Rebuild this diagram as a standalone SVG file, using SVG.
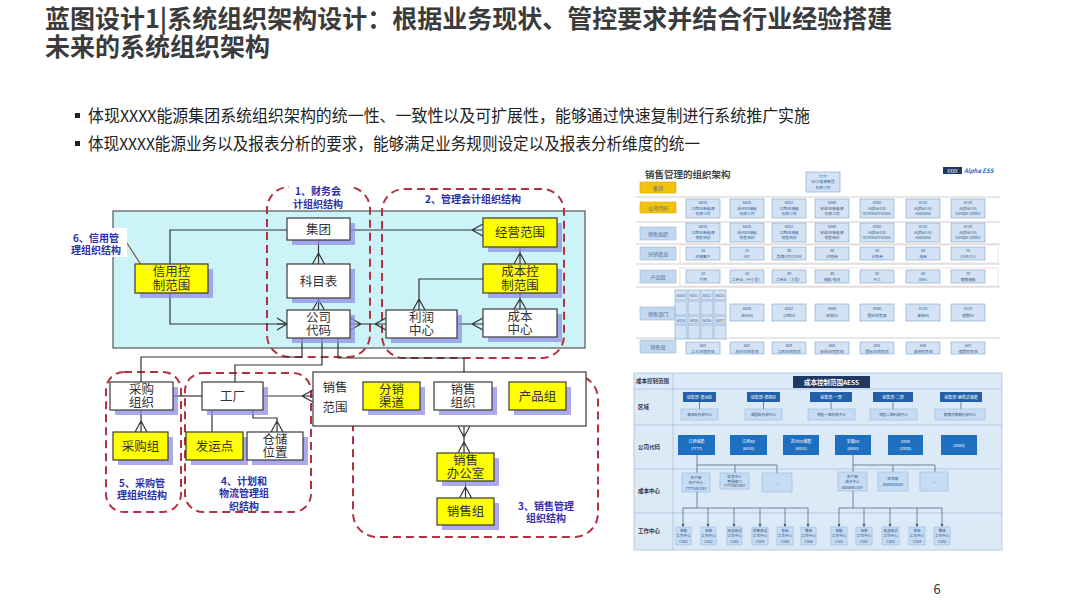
<svg xmlns="http://www.w3.org/2000/svg" width="1080" height="607" viewBox="0 0 1080 607">
<style>
text{font-family:"Noto Sans CJK SC","Noto Sans",sans-serif}
.title{font-size:25px;font-weight:bold;fill:#3b3b3b}
.bul{font-size:16.5px;fill:#222}
.n{fill:#fff;stroke:#3a3a3a;stroke-width:1.2}
.y{fill:#ffff00;stroke:#3a3a3a;stroke-width:1.2}
.sh{fill:#8f8fe6;opacity:.75}
.nt{font-size:12.5px;fill:#333;text-anchor:middle}
.rg{fill:none;stroke:#b2323f;stroke-width:2;stroke-dasharray:8 5}
.rl{font-size:10px;font-weight:bold;fill:#2e2ea8;text-anchor:middle}
.c{fill:none;stroke:#333;stroke-width:1.2}
.lb{fill:#c3d8ee;stroke:#9ab6d8;stroke-width:.6}
.lby{fill:#f3c20c;stroke:#d9a800;stroke-width:.6}
.lt{font-size:5px;fill:#4a6a9a;text-anchor:middle}
.db{fill:#d3e3f4;stroke:#7fa2cc;stroke-width:.6}
.dt{font-size:3.8px;fill:#3a5a8a;text-anchor:middle}
.sep{stroke:#c4c4c4;stroke-width:.8}
.dk{fill:#2360a8}
.cb{fill:#1f6fc0}
.wt{font-size:4px;fill:#fff;text-anchor:middle}
.lc{fill:#c6dcf2;stroke:#9bb9da;stroke-width:.6}
.ct{font-size:3.6px;fill:#2a4d80;text-anchor:middle}
.bl{stroke:#3a5a7a;stroke-width:.7;fill:none}
.rowl{font-size:5.5px;font-weight:bold;fill:#334}
</style>

<!-- Title & bullets -->
<text class="title" x="45" y="28">蓝图设计1|系统组织架构设计：根据业务现状、管控要求并结合行业经验搭建</text>
<text class="title" x="45" y="56">未来的系统组织架构</text>
<rect x="75" y="113" width="5" height="5" fill="#222"/>
<text class="bul" x="88" y="122" textLength="722" lengthAdjust="spacingAndGlyphs">体现XXXX能源集团系统组织架构的统一性、一致性以及可扩展性，能够通过快速复制进行系统推广实施</text>
<rect x="75" y="141" width="5" height="5" fill="#222"/>
<text class="bul" x="88" y="150" textLength="612" lengthAdjust="spacingAndGlyphs">体现XXXX能源业务以及报表分析的要求，能够满足业务规则设定以及报表分析维度的统一</text>

<!-- Left diagram background -->
<rect x="113" y="211" width="472" height="137" fill="#ccf4f8" stroke="#555" stroke-width="1.2"/>

<!-- Regions -->
<g id="regions">
<rect class="rg" x="267" y="187" width="103" height="170" rx="22"/>
<rect x="289" y="183" width="60" height="26" fill="#fff"/>
<rect class="rg" x="382" y="189" width="182" height="169" rx="22"/>
<rect class="rg" x="106" y="372" width="75" height="140" rx="18"/>
<rect class="rg" x="185" y="373" width="126" height="139" rx="18"/>
<rect class="rg" x="353" y="375" width="245" height="162" rx="24"/>
</g>

<!-- Connectors -->
<g id="connectors" class="c">
<path d="M287 230 H170 V264 M170 293 V324 H287"/>
<path d="M277 318 L287 324 L277 330 M287 324 H277"/>
<path d="M318.5 240 V264 M312.5 264 L318.5 253 L324.5 264"/>
<path d="M318.5 298 V310 M312.5 310 L318.5 300 L324.5 310"/>
<path d="M350 230 H483 M483 224 L472 230 L483 236"/>
<path d="M520 247 V264 M514 264 L520 253 L526 264"/>
<path d="M483 279 H419 V310 M413 310 L419 299 L425 310"/>
<path d="M520 293 V309 M514 309 L520 299 L526 309"/>
<path d="M457 324 H483 M483 318 L472 324 L483 330"/>
<path d="M350 324 H386 M350 318 L361 324 L350 330 M386 318 L375 324 L386 330"/>
<path d="M302 338 V357 H141 V382"/>
<path d="M322 338 V365 H235 V382"/>
<path d="M338 338 V358 H464 V382 M458 382 L464 371 L470 382"/>
<path d="M173 396 H202"/>
<path d="M263 396 H313 M313 390 L302 396 L313 402"/>
<path d="M141 410 V432 M135 432 L141 421 L147 432"/>
<path d="M212 410 V432"/>
<path d="M253 410 V418 H277 V432 M271 432 L277 421 L283 432"/>
<path d="M464 426 V453 M458 426 L464 437 L470 426 M458 453 L464 442 L470 453"/>
<path d="M465.5 481 V498 M459.5 498 L465.5 487 L471.5 498"/>
<path d="M127 243 L143 268" stroke="#7a5a40"/>
</g>
<circle cx="143" cy="268" r="2" fill="#c03030"/>

<!-- Nodes -->
<g id="n-jituan"><rect class="sh" x="292" y="223" width="63" height="22"/><rect class="n" x="287" y="218" width="63" height="22"/><text class="nt" x="318.5" y="233.5">集团</text></g>
<g id="n-kemubiao"><rect class="sh" x="292" y="269" width="63" height="34"/><rect class="n" x="287" y="264" width="63" height="34"/><text class="nt" x="318.5" y="285.5">科目表</text></g>
<g id="n-gongsidaima"><rect class="sh" x="292" y="315" width="63" height="28"/><rect class="n" x="287" y="310" width="63" height="28"/><text class="nt" x="318.5" y="321.5">公司<tspan x="318.5" dy="13.5">代码</tspan></text></g>
<g id="n-xinyong"><rect class="sh" x="140" y="269" width="73" height="29"/><rect class="y" x="135" y="264" width="73" height="29"/><text class="nt" x="171.5" y="276">信用控<tspan x="171.5" dy="13.5">制范围</tspan></text></g>
<g id="n-jingying"><rect class="sh" x="488" y="223" width="74" height="29"/><rect class="y" x="483" y="218" width="74" height="29"/><text class="nt" x="520" y="237">经营范围</text></g>
<g id="n-chengbenkongzhi"><rect class="sh" x="488" y="269" width="74" height="29"/><rect class="y" x="483" y="264" width="74" height="29"/><text class="nt" x="520" y="276">成本控<tspan x="520" dy="13.5">制范围</tspan></text></g>
<g id="n-lirun"><rect class="sh" x="391" y="315" width="71" height="28"/><rect class="n" x="386" y="310" width="71" height="28"/><text class="nt" x="421.5" y="321.5">利润<tspan x="421.5" dy="13.5">中心</tspan></text></g>
<g id="n-chengbenzhongxin"><rect class="sh" x="488" y="314" width="74" height="28"/><rect class="n" x="483" y="309" width="74" height="28"/><text class="nt" x="520" y="320.5">成本<tspan x="520" dy="13.5">中心</tspan></text></g>
<g id="n-caigouzuzhi"><rect class="sh" x="115" y="387" width="63" height="28"/><rect class="n" x="110" y="382" width="63" height="28"/><text class="nt" x="141.5" y="393.5">采购<tspan x="141.5" dy="13.5">组织</tspan></text></g>
<g id="n-gongchang"><rect class="sh" x="207" y="387" width="61" height="28"/><rect class="n" x="202" y="382" width="61" height="28"/><text class="nt" x="232.5" y="400.5">工厂</text></g>
<g id="n-caigouzu"><rect class="sh" x="118" y="437" width="55" height="28"/><rect class="y" x="113" y="432" width="55" height="28"/><text class="nt" x="140.5" y="450.5">采购组</text></g>
<g id="n-fayundian"><rect class="sh" x="191" y="437" width="57" height="28"/><rect class="y" x="186" y="432" width="57" height="28"/><text class="nt" x="214.5" y="450.5">发运点</text></g>
<g id="n-cangchu"><rect class="sh" x="252" y="437" width="56" height="28"/><rect class="n" x="247" y="432" width="56" height="28"/><text class="nt" x="275" y="443.5">仓储<tspan x="275" dy="13.5">位置</tspan></text></g>
<g id="n-xiaoshoufanwei"><rect class="n" x="313" y="372" width="273" height="54"/><text class="nt" x="335" y="391.5">销售<tspan x="335" dy="20.5">范围</tspan></text></g>
<g id="n-fenxiao"><rect class="sh" x="368" y="387" width="57" height="28"/><rect class="y" x="363" y="382" width="57" height="28"/><text class="nt" x="391.5" y="393.5">分销<tspan x="391.5" dy="13.5">渠道</tspan></text></g>
<g id="n-xiaoshouzuzhi"><rect class="sh" x="439" y="387" width="58" height="28"/><rect class="n" x="434" y="382" width="58" height="28"/><text class="nt" x="463" y="393.5">销售<tspan x="463" dy="13.5">组织</tspan></text></g>
<g id="n-chanpinzu"><rect class="sh" x="514" y="387" width="57" height="28"/><rect class="y" x="509" y="382" width="57" height="28"/><text class="nt" x="537.5" y="400.5">产品组</text></g>
<g id="n-bangongshi"><rect class="sh" x="442" y="458" width="57" height="28"/><rect class="y" x="437" y="453" width="57" height="28"/><text class="nt" x="465.5" y="464.5">销售<tspan x="465.5" dy="13.5">办公室</tspan></text></g>
<g id="n-xiaoshouzu"><rect class="sh" x="442" y="503" width="57" height="27"/><rect class="y" x="437" y="498" width="57" height="27"/><text class="nt" x="465.5" y="516">销售组</text></g>

<!-- Region labels -->
<g id="region-labels">
<text class="rl" x="318" y="195">1、财务会<tspan x="318" dy="12.5">计组织结构</tspan></text>
<text class="rl" x="473" y="203">2、管理会计组织结构</text>
<rect x="66" y="228" width="61" height="29" fill="#fff"/>
<text class="rl" x="96" y="241.5">6、信用管<tspan x="96" dy="12.5">理组织结构</tspan></text>
<text class="rl" x="142" y="486.5">5、采购管<tspan x="142" dy="12.5">理组织结构</tspan></text>
<text class="rl" x="244" y="484.5">4、计划和<tspan x="244" dy="12.5">物流管理组</tspan><tspan x="244" dy="12.5">织结构</tspan></text>
<text class="rl" x="546" y="509.5">3、销售管理<tspan x="546" dy="12.5">组织结构</tspan></text>
</g>

<!-- Right top screenshot: 销售管理的组织架构 -->
<g id="sales-org">
<text x="645" y="178" style="font-size:9.5px;font-weight:bold;fill:#444">销售管理的组织架构</text>
<rect x="943" y="167" width="19" height="7" fill="#1f3864"/>
<text x="952.5" y="172.5" style="font-size:4.5px;fill:#fff;text-anchor:middle">XXXX</text>
<text x="964" y="173" style="font-size:6px;font-style:italic;font-weight:bold;fill:#2b6cc4">Alpha ESS</text>
<line class="sep" x1="636" y1="197" x2="1000" y2="197"/>
<line class="sep" x1="636" y1="222" x2="1000" y2="222"/>
<line class="sep" x1="636" y1="244" x2="1000" y2="244"/>
<line class="sep" x1="636" y1="264" x2="1000" y2="264"/>
<line class="sep" x1="636" y1="287" x2="1000" y2="287"/>
<line class="sep" x1="636" y1="338" x2="1000" y2="338"/>
<rect x="680" y="245" width="318" height="18" fill="none" stroke="#e8c8c8" stroke-width=".6"/>
<rect x="680" y="268" width="318" height="18" fill="none" stroke="#e8c8c8" stroke-width=".6"/>
<rect class="lby" x="640" y="182" width="36" height="11"/><text class="lt" x="658" y="189.5">集团</text>
<rect class="lby" x="640" y="202" width="36" height="11"/><text class="lt" x="658" y="209.5">公司代码</text>
<rect class="lb" x="640" y="227" width="36" height="13"/><text class="lt" x="658" y="235.5">销售组织</text>
<rect class="lb" x="640" y="247" width="36" height="13"/><text class="lt" x="658" y="255.5">分销渠道</text>
<rect class="lb" x="640" y="270" width="36" height="13"/><text class="lt" x="658" y="278.5">产品组</text>
<rect class="lb" x="640" y="307" width="36" height="13"/><text class="lt" x="658" y="315.5">销售部门</text>
<rect class="lb" x="640" y="340" width="36" height="13"/><text class="lt" x="658" y="348.5">销售组</text>
<rect class="db" x="806" y="172" width="34" height="20"/><text class="dt" x="823" y="177.5">7777<tspan x="823" dy="5.8">XX大能源集团</tspan><tspan x="823" dy="5.8">有限公司</tspan></text>
<!-- row 公司代码 -->
<rect class="db" x="686" y="199" width="34" height="19"/><text class="dt" x="703" y="204">6010<tspan x="703" dy="5.7">江西XX新能源</tspan><tspan x="703" dy="5.7">有限公司</tspan></text>
<rect class="db" x="730" y="199" width="34" height="19"/><text class="dt" x="747" y="204">6020<tspan x="747" dy="5.7">苏州XX储能</tspan><tspan x="747" dy="5.7">有限公司</tspan></text>
<rect class="db" x="772" y="199" width="34" height="19"/><text class="dt" x="789" y="204">6022<tspan x="789" dy="5.7">江西XX储能</tspan><tspan x="789" dy="5.7">有限公司</tspan></text>
<rect class="db" x="815" y="199" width="34" height="19"/><text class="dt" x="832" y="204">6040<tspan x="832" dy="5.7">安徽XX新能源</tspan><tspan x="832" dy="5.7">有限公司</tspan></text>
<rect class="db" x="860" y="199" width="34" height="19"/><text class="dt" x="877" y="204">8000<tspan x="877" dy="5.7">Alpha ESS</tspan><tspan x="877" dy="5.7">INTERNATIONAL</tspan></text>
<rect class="db" x="906" y="199" width="34" height="19"/><text class="dt" x="923" y="204">8110<tspan x="923" dy="5.7">Alpha ESS</tspan><tspan x="923" dy="5.7">Australia</tspan></text>
<rect class="db" x="951" y="199" width="34" height="19"/><text class="dt" x="968" y="204">8210<tspan x="968" dy="5.7">Alpha ESS</tspan><tspan x="968" dy="5.7">Europe GmbH</tspan></text>
<!-- row 销售组织 -->
<rect class="db" x="686" y="223" width="34" height="19"/><text class="dt" x="703" y="228">6010<tspan x="703" dy="5.7">江西XX新能源</tspan><tspan x="703" dy="5.7">销售组织</tspan></text>
<rect class="db" x="730" y="223" width="34" height="19"/><text class="dt" x="747" y="228">6020<tspan x="747" dy="5.7">苏州XX储能</tspan><tspan x="747" dy="5.7">销售组织</tspan></text>
<rect class="db" x="772" y="223" width="34" height="19"/><text class="dt" x="789" y="228">6022<tspan x="789" dy="5.7">江西XX储能</tspan><tspan x="789" dy="5.7">销售组织</tspan></text>
<rect class="db" x="815" y="223" width="34" height="19"/><text class="dt" x="832" y="228">6040<tspan x="832" dy="5.7">安徽XX新能源</tspan><tspan x="832" dy="5.7">销售组织</tspan></text>
<rect class="db" x="860" y="223" width="34" height="19"/><text class="dt" x="877" y="228">8000<tspan x="877" dy="5.7">Alpha ESS</tspan><tspan x="877" dy="5.7">INTERNATIONAL</tspan></text>
<rect class="db" x="906" y="223" width="34" height="19"/><text class="dt" x="923" y="228">8110<tspan x="923" dy="5.7">Alpha ESS</tspan><tspan x="923" dy="5.7">Australia</tspan></text>
<rect class="db" x="951" y="223" width="34" height="19"/><text class="dt" x="968" y="228">8210<tspan x="968" dy="5.7">Alpha ESS</tspan><tspan x="968" dy="5.7">Europe GmbH</tspan></text>
<!-- row 分销渠道 -->
<rect class="db" x="686" y="247" width="34" height="13"/><text class="dt" x="703" y="252">10<tspan x="703" dy="6">终端客户</tspan></text>
<rect class="db" x="730" y="247" width="34" height="13"/><text class="dt" x="747" y="252">20<tspan x="747" dy="6">EPC</tspan></text>
<rect class="db" x="772" y="247" width="34" height="13"/><text class="dt" x="789" y="252">30<tspan x="789" dy="6">品牌合作/OEM</tspan></text>
<rect class="db" x="815" y="247" width="34" height="13"/><text class="dt" x="832" y="252">40<tspan x="832" dy="6">经销商</tspan></text>
<rect class="db" x="860" y="247" width="34" height="13"/><text class="dt" x="877" y="252">50<tspan x="877" dy="6">分销商</tspan></text>
<rect class="db" x="906" y="247" width="34" height="13"/><text class="dt" x="923" y="252">60<tspan x="923" dy="6">电商</tspan></text>
<rect class="db" x="951" y="247" width="34" height="13"/><text class="dt" x="968" y="252">70<tspan x="968" dy="6">CEM/YL1</tspan></text>
<!-- row 产品组 -->
<rect class="db" x="686" y="270" width="34" height="13"/><text class="dt" x="703" y="275">10<tspan x="703" dy="6">户用</tspan></text>
<rect class="db" x="730" y="270" width="34" height="13"/><text class="dt" x="747" y="275">20<tspan x="747" dy="6">工商业（中小型）</tspan></text>
<rect class="db" x="772" y="270" width="34" height="13"/><text class="dt" x="789" y="275">30<tspan x="789" dy="6">工商业（大型）</tspan></text>
<rect class="db" x="815" y="270" width="34" height="13"/><text class="dt" x="832" y="275">40<tspan x="832" dy="6">储能/电池</tspan></text>
<rect class="db" x="860" y="270" width="34" height="13"/><text class="dt" x="877" y="275">50<tspan x="877" dy="6">PCS</tspan></text>
<rect class="db" x="906" y="270" width="34" height="13"/><text class="dt" x="923" y="275">60<tspan x="923" dy="6">BMS</tspan></text>
<rect class="db" x="951" y="270" width="34" height="13"/><text class="dt" x="968" y="275">70<tspan x="968" dy="6">便携储能</tspan></text>
<!-- row 销售部门 -->
<rect class="db" x="675" y="290" width="12" height="10"/><rect class="db" x="688" y="290" width="12" height="10"/><rect class="db" x="701" y="290" width="12" height="10"/><rect class="db" x="714" y="290" width="12" height="10"/>
<rect class="db" x="675" y="301" width="12" height="14"/><rect class="db" x="688" y="301" width="12" height="14"/><rect class="db" x="701" y="301" width="12" height="14"/><rect class="db" x="714" y="301" width="12" height="14"/>
<rect class="db" x="675" y="316" width="12" height="8"/><rect class="db" x="688" y="316" width="12" height="8"/><rect class="db" x="701" y="316" width="12" height="8"/><rect class="db" x="714" y="316" width="12" height="8"/>
<rect class="db" x="675" y="325" width="12" height="14"/><rect class="db" x="688" y="325" width="12" height="14"/><rect class="db" x="701" y="325" width="12" height="14"/><rect class="db" x="714" y="325" width="12" height="14"/>
<text class="dt" x="681" y="296.5">6010</text><text class="dt" x="694" y="296.5">6011</text><text class="dt" x="707" y="296.5">6012</text><text class="dt" x="720" y="296.5">6013</text>
<text class="dt" x="681" y="321.5">6014</text><text class="dt" x="694" y="321.5">6015</text><text class="dt" x="707" y="321.5">6016</text><text class="dt" x="720" y="321.5">6017</text>
<rect class="db" x="730" y="304" width="34" height="17"/><text class="dt" x="747" y="310">6020<tspan x="747" dy="7">苏州XX</tspan></text>
<rect class="db" x="772" y="304" width="34" height="17"/><text class="dt" x="789" y="310">6022<tspan x="789" dy="7">江西XX</tspan></text>
<rect class="db" x="815" y="304" width="34" height="17"/><text class="dt" x="832" y="310">6040<tspan x="832" dy="7">安徽XX</tspan></text>
<rect class="db" x="860" y="304" width="34" height="17"/><text class="dt" x="877" y="310">8000<tspan x="877" dy="7">国际销售部</tspan></text>
<rect class="db" x="906" y="304" width="34" height="17"/><text class="dt" x="923" y="310">8110<tspan x="923" dy="7">澳洲XX</tspan></text>
<rect class="db" x="951" y="304" width="34" height="17"/><text class="dt" x="968" y="310">8210<tspan x="968" dy="7">德国XX</tspan></text>
<!-- row 销售组 -->
<rect class="db" x="686" y="342" width="34" height="12"/><text class="dt" x="703" y="346.5">601<tspan x="703" dy="6">江大XX销售组</tspan></text>
<rect class="db" x="730" y="342" width="34" height="12"/><text class="dt" x="747" y="346.5">602<tspan x="747" dy="6">苏州XX销售组</tspan></text>
<rect class="db" x="772" y="342" width="34" height="12"/><text class="dt" x="789" y="346.5">603<tspan x="789" dy="6">江西XX销售组</tspan></text>
<rect class="db" x="815" y="342" width="34" height="12"/><text class="dt" x="832" y="346.5">604<tspan x="832" dy="6">安徽XX销售组</tspan></text>
<rect class="db" x="860" y="342" width="34" height="12"/><text class="dt" x="877" y="346.5">605<tspan x="877" dy="6">国际XX销售组</tspan></text>
<rect class="db" x="906" y="342" width="34" height="12"/><text class="dt" x="923" y="346.5">606<tspan x="923" dy="6">澳洲销售组</tspan></text>
<rect class="db" x="951" y="342" width="34" height="12"/><text class="dt" x="968" y="346.5">607<tspan x="968" dy="6">德国销售组</tspan></text>
</g>

<!-- Right bottom screenshot: 成本控制范围 -->
<g id="cost-org">
<rect x="634" y="373" width="368" height="177" fill="#dce9f6" stroke="#a8c2de" stroke-width=".8"/>
<line x1="673" y1="373" x2="673" y2="550" stroke="#a8c2de" stroke-width=".8"/>
<line x1="634" y1="389" x2="1002" y2="389" stroke="#a8c2de" stroke-width=".8"/>
<line x1="634" y1="425" x2="1002" y2="425" stroke="#a8c2de" stroke-width=".8"/>
<line x1="634" y1="469" x2="1002" y2="469" stroke="#a8c2de" stroke-width=".8"/>
<line x1="634" y1="513" x2="1002" y2="513" stroke="#a8c2de" stroke-width=".8"/>
<text class="rowl" x="636" y="383">成本控制范围</text>
<rect x="793" y="376" width="77" height="12" fill="#1f3864"/>
<text x="831.5" y="384.5" style="font-size:6.5px;font-weight:bold;fill:#fff;text-anchor:middle">成本控制范围AESS</text>
<text class="rowl" x="638" y="409">区域</text>
<text class="rowl" x="638" y="449">公司代码</text>
<text class="rowl" x="638" y="493">成本中心</text>
<text class="rowl" x="638" y="533">工作中心</text>
<!-- 区域 -->
<rect class="dk" x="683" y="392" width="33" height="10"/><text class="wt" x="699.5" y="398.5">销售部-澳洲区</text>
<rect class="lc" x="681" y="409" width="37" height="11"/><text class="ct" x="699.5" y="416">澳洲区利润中心</text>
<rect class="dk" x="747" y="392" width="33" height="10"/><text class="wt" x="763.5" y="398.5">销售部-德国区</text>
<rect class="lc" x="745" y="409" width="37" height="11"/><text class="ct" x="763.5" y="416">德国区利润中心</text>
<rect class="dk" x="810" y="392" width="42" height="10"/><text class="wt" x="831" y="398.5">销售部-一部</text>
<rect class="lc" x="808" y="409" width="47" height="11"/><text class="ct" x="831.5" y="416">销售一部利润中心</text>
<rect class="dk" x="873" y="392" width="40" height="10"/><text class="wt" x="893" y="398.5">销售部-二部</text>
<rect class="lc" x="870" y="409" width="47" height="11"/><text class="ct" x="893.5" y="416">销售二部利润中心</text>
<rect class="dk" x="940" y="392" width="42" height="10"/><text class="wt" x="961" y="398.5">销售部-便携式储能</text>
<rect class="lc" x="935" y="409" width="50" height="11"/><text class="ct" x="960" y="416">便携式储能利润中心</text>
<path class="bl" d="M699.5 402 V409 M763.5 402 V409 M831 402 V409 M893 402 V409 M961 402 V409"/>
<!-- 公司代码 -->
<rect class="cb" x="678" y="435" width="37" height="20"/><text class="wt" x="696.5" y="443">江西储能<tspan x="696.5" dy="6.5">(7777)</tspan></text>
<rect class="cb" x="730" y="435" width="37" height="20"/><text class="wt" x="748.5" y="443">江西XX<tspan x="748.5" dy="6.5">(6010)</tspan></text>
<rect class="cb" x="783" y="435" width="36" height="20"/><text class="wt" x="801" y="443">苏州XX储能<tspan x="801" dy="6.5">(6020)</tspan></text>
<rect class="cb" x="835" y="435" width="36" height="20"/><text class="wt" x="853" y="443">安徽XX<tspan x="853" dy="6.5">(6040)</tspan></text>
<rect class="cb" x="888" y="435" width="35" height="20"/><text class="wt" x="905.5" y="443">XXXX<tspan x="905.5" dy="6.5">(XXXX)</tspan></text>
<rect class="cb" x="941" y="435" width="36" height="20"/><text class="wt" x="959" y="446.5">(XXXX)</text>
<!-- 成本中心 -->
<path class="bl" d="M697 455 V465 H777 M697 465 V473 M735 465 V473 M777 465 V473"/>
<path class="bl" d="M853 455 V465 H935 M853 465 V472 M893 465 V472 M935 465 V472"/>
<rect class="lc" x="682" y="473" width="28" height="19"/><text class="ct" x="696" y="478.5">生产部<tspan x="696" dy="5.5">生产中心</tspan><tspan x="696" dy="5.5">7777ABCDEF</tspan></text>
<rect class="lc" x="720" y="473" width="29" height="16"/><text class="ct" x="734.5" y="477.8">财务中心<tspan x="734.5" dy="4.8">管理部门</tspan><tspan x="734.5" dy="4.8">7777ABCDEF</tspan></text>
<rect class="lc" x="762" y="473" width="30" height="19"/><text class="ct" x="777" y="484">...</text>
<rect class="lc" x="838" y="472" width="29" height="19"/><text class="ct" x="852.5" y="477.5">生产部<tspan x="852.5" dy="5.5">成本中心</tspan><tspan x="852.5" dy="5.5">8040ABCDEF</tspan></text>
<rect class="lc" x="878" y="472" width="30" height="19"/><text class="ct" x="893" y="479.5">财务部<tspan x="893" dy="6">8040XXXXXX</tspan></text>
<rect class="lc" x="920" y="472" width="28" height="19"/><text class="ct" x="934" y="483">...</text>
<!-- 工作中心 -->
<path class="bl" d="M697 492 V508 M683 508 H808 M683 508 V527 M708 508 V527 M734 508 V527 M760 508 V527 M785 508 V527 M808 508 V527"/>
<path class="bl" d="M853 491 V508 M839 508 H942 M839 508 V527 M864 508 V527 M890 508 V527 M917 508 V527 M942 508 V527"/>
<g fill="#3a5a7a">
<path d="M681.5 524 L683 527 L684.5 524Z M706.5 524 L708 527 L709.5 524Z M732.5 524 L734 527 L735.5 524Z M758.5 524 L760 527 L761.5 524Z M783.5 524 L785 527 L786.5 524Z M806.5 524 L808 527 L809.5 524Z"/>
<path d="M837.5 524 L839 527 L840.5 524Z M862.5 524 L864 527 L865.5 524Z M888.5 524 L890 527 L891.5 524Z M915.5 524 L917 527 L918.5 524Z M940.5 524 L942 527 L943.5 524Z"/>
</g>
<g>
<rect class="lc" x="676" y="527" width="15" height="18"/><text class="ct" x="683.5" y="532">装配<tspan x="683.5" dy="5.3">工作中心</tspan><tspan x="683.5" dy="5.3">C001</tspan></text>
<rect class="lc" x="701" y="527" width="15" height="18"/><text class="ct" x="708.5" y="532">包装<tspan x="708.5" dy="5.3">工作中心</tspan><tspan x="708.5" dy="5.3">C002</tspan></text>
<rect class="lc" x="727" y="527" width="15" height="18"/><text class="ct" x="734.5" y="532">电池测试<tspan x="734.5" dy="5.3">工作中心</tspan><tspan x="734.5" dy="5.3">C003</tspan></text>
<rect class="lc" x="752" y="527" width="16" height="18"/><text class="ct" x="760" y="532">系统测试<tspan x="760" dy="5.3">工作中心</tspan><tspan x="760" dy="5.3">C004</tspan></text>
<rect class="lc" x="777" y="527" width="16" height="18"/><text class="ct" x="785" y="532">检验<tspan x="785" dy="5.3">工作中心</tspan><tspan x="785" dy="5.3">C005</tspan></text>
<rect class="lc" x="801" y="527" width="15" height="18"/><text class="ct" x="808.5" y="532">维修<tspan x="808.5" dy="5.3">工作中心</tspan><tspan x="808.5" dy="5.3">C006</tspan></text>
<rect class="lc" x="831" y="527" width="16" height="18"/><text class="ct" x="839" y="532">装配<tspan x="839" dy="5.3">工作中心</tspan><tspan x="839" dy="5.3">C001</tspan></text>
<rect class="lc" x="856" y="527" width="16" height="18"/><text class="ct" x="864" y="532">包装<tspan x="864" dy="5.3">工作中心</tspan><tspan x="864" dy="5.3">C002</tspan></text>
<rect class="lc" x="882" y="527" width="17" height="18"/><text class="ct" x="890.5" y="532">电池测试<tspan x="890.5" dy="5.3">工作中心</tspan><tspan x="890.5" dy="5.3">C003</tspan></text>
<rect class="lc" x="909" y="527" width="16" height="18"/><text class="ct" x="917" y="532">检验<tspan x="917" dy="5.3">工作中心</tspan><tspan x="917" dy="5.3">C004</tspan></text>
<rect class="lc" x="934" y="527" width="16" height="18"/><text class="ct" x="942" y="532">维修<tspan x="942" dy="5.3">工作中心</tspan><tspan x="942" dy="5.3">C005</tspan></text>
</g>
</g>

<text x="937" y="594" style="font-size:13px;fill:#333;text-anchor:middle">6</text>
</svg>
